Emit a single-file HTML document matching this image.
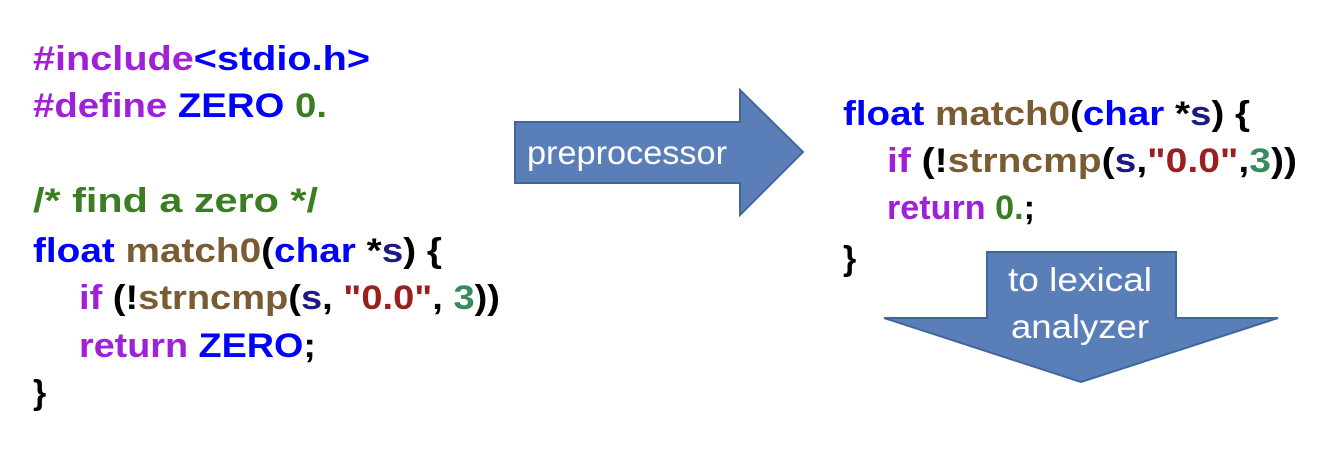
<!DOCTYPE html>
<html><head><meta charset="utf-8"><style>
html,body{margin:0;padding:0;background:#fff;width:1322px;height:450px;overflow:hidden}
svg text{font-family:"Liberation Sans",sans-serif;font-weight:bold;font-size:34px}
.p{fill:#a020d8}.b{fill:#0000ff}.g{fill:#3a7d22}.br{fill:#7a5c33}.k{fill:#000}.n{fill:#1a1a80}.r{fill:#9a1f1f}.t{fill:#3a8a60}
.w{fill:#fff;font-weight:normal!important;font-size:33px!important}
</style></head><body>
<svg width="1322" height="450" viewBox="0 0 1322 450" xmlns="http://www.w3.org/2000/svg">
<text x="33" y="70" textLength="337" lengthAdjust="spacingAndGlyphs"><tspan class="p">#include</tspan><tspan class="b">&lt;stdio.h&gt;</tspan></text>
<text x="33" y="117" textLength="294" lengthAdjust="spacingAndGlyphs"><tspan class="p">#define </tspan><tspan class="b">ZERO </tspan><tspan class="g">0.</tspan></text>
<text x="33" y="212" textLength="285" lengthAdjust="spacingAndGlyphs" class="g">/* find a zero */</text>
<text x="33" y="262" textLength="409" lengthAdjust="spacingAndGlyphs"><tspan class="b">float </tspan><tspan class="br">match0</tspan><tspan class="k">(</tspan><tspan class="b">char </tspan><tspan class="k">*</tspan><tspan class="n">s</tspan><tspan class="k">) {</tspan></text>
<text x="79" y="309" textLength="421" lengthAdjust="spacingAndGlyphs"><tspan class="p">if </tspan><tspan class="k">(!</tspan><tspan class="br">strncmp</tspan><tspan class="k">(</tspan><tspan class="n">s</tspan><tspan class="k">, </tspan><tspan class="r">"0.0"</tspan><tspan class="k">, </tspan><tspan class="t">3</tspan><tspan class="k">))</tspan></text>
<text x="79" y="357" textLength="237" lengthAdjust="spacingAndGlyphs"><tspan class="p">return </tspan><tspan class="b">ZERO</tspan><tspan class="k">;</tspan></text>
<text x="33" y="404" class="k">}</text>

<polygon points="515,122 740,122 740,90 803,152 740,215 740,183 515,183" fill="#5a7fb8" stroke="#41669b" stroke-width="2"/>
<text x="627" y="164" text-anchor="middle" class="w" textLength="200" lengthAdjust="spacingAndGlyphs">preprocessor</text>

<text x="843" y="125" textLength="407" lengthAdjust="spacingAndGlyphs"><tspan class="b">float </tspan><tspan class="br">match0</tspan><tspan class="k">(</tspan><tspan class="b">char </tspan><tspan class="k">*</tspan><tspan class="n">s</tspan><tspan class="k">) {</tspan></text>
<text x="887" y="172" textLength="410" lengthAdjust="spacingAndGlyphs"><tspan class="p">if </tspan><tspan class="k">(!</tspan><tspan class="br">strncmp</tspan><tspan class="k">(</tspan><tspan class="n">s</tspan><tspan class="k">,</tspan><tspan class="r">"0.0"</tspan><tspan class="k">,</tspan><tspan class="t">3</tspan><tspan class="k">))</tspan></text>
<text x="887" y="219" textLength="148" lengthAdjust="spacingAndGlyphs"><tspan class="p">return </tspan><tspan class="g">0.</tspan><tspan class="k">;</tspan></text>
<text x="843" y="270" class="k">}</text>

<polygon points="987,252 1176,252 1176,318 1278,318 1081,382 884,318 987,318" fill="#5a7fb8" stroke="#41669b" stroke-width="2"/>
<text x="1080" y="291" text-anchor="middle" class="w" textLength="144" lengthAdjust="spacingAndGlyphs">to lexical</text>
<text x="1080" y="338" text-anchor="middle" class="w" textLength="138" lengthAdjust="spacingAndGlyphs">analyzer</text>
</svg>
</body></html>
